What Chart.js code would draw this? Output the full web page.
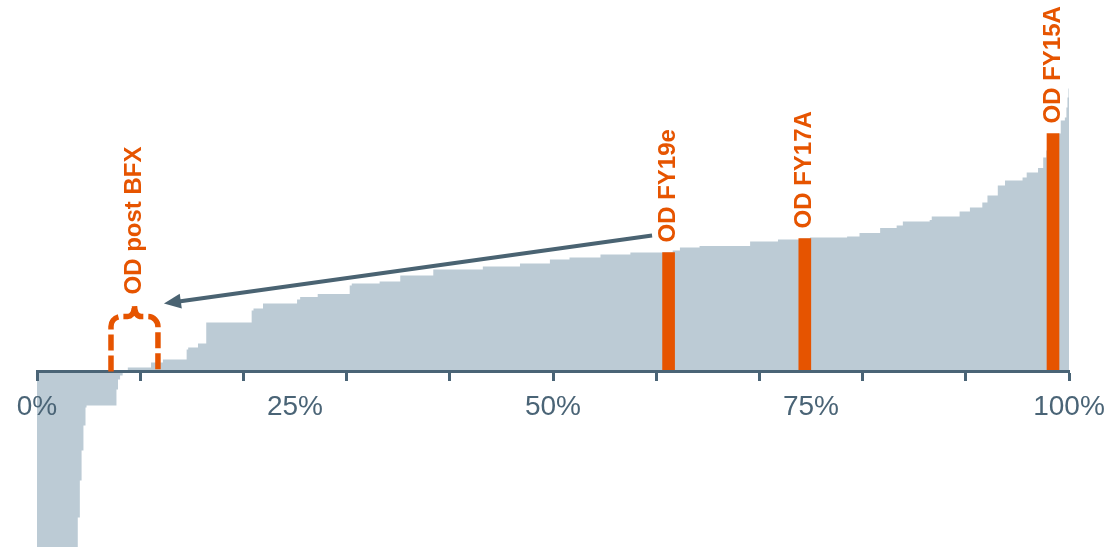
<!DOCTYPE html>
<html>
<head>
<meta charset="utf-8">
<script src="https://cdn.jsdelivr.net/npm/chart.js@4.4.0/dist/chart.umd.min.js"></script>
<style>
  html, body { margin: 0; padding: 0; background: #ffffff; }
  #wrap { width: 1109px; height: 547px; }
</style>
</head>
<body>
<div id="wrap"><canvas id="chart" width="1109" height="547"></canvas></div>
<script>
// Cumulative share of the peer group (%) where each margin level begins
const peerShare = [
  0, 0.8, 1.6, 2.4, 3.2, 3.75, 3.95, 4.15, 4.32, 4.5, 4.7, 4.8,
  7.7, 7.85, 8.05, 8.3, 8.8, 11.05, 12.2, 14.5, 14.65, 15.6, 16.4,
  20.8, 20.98, 21.9, 25.2, 25.5, 27.2, 30.3, 30.5, 33.2, 35.2, 38.4,
  43.2, 46.8, 49.7, 51.6, 54.6, 57.5, 61.6, 62.3, 64.2, 69.1, 71.8,
  73.9, 74.9, 78.5, 79.7, 81.7, 83.3, 83.9, 86.5, 86.7, 89.4, 90.4,
  91.6, 92.1, 93.1, 93.8, 95.5, 95.9, 97.0, 97.5, 97.8, 99.0, 99.2,
  99.6, 99.75, 99.85, 99.95, 100
];
// Margin level of each step
const peerMargin = [
  -75, -42, -31, -25, -20.5, -17.8, -14.6, -10.9, -7.9, -5.4, -3.6, -3.4,
  -1.8, -0.8, -0.4, 0.1, 0.4, 0.9, 1.2, 2.2, 2.4, 2.8, 4.9,
  6.1, 6.3, 6.8, 7.2, 7.45, 7.75, 8.6, 8.8, 9.0, 9.6, 10.2,
  10.5, 10.8, 11.2, 11.4, 11.7, 11.9, 12.1, 12.4, 12.55, 13.0, 13.2,
  13.3, 13.4, 13.5, 13.85, 14.35, 14.6, 15.0, 15.15, 15.5, 16.0, 16.4,
  16.9, 17.6, 18.6, 19.1, 19.4, 19.9, 20.35, 21.4, 22.1, 23.8, 25.1,
  25.4, 26.4, 27.4, 28.3, 28.3
];

// Highlighted OD positions
const markerLabels = ['OD FY19e', 'OD FY17A', 'OD FY15A'];
const markerShare = [61.2, 74.4, 98.45];
const markerMargin = [11.9, 13.3, 23.8];

// Axis ticks: marks every 10 %, labels every 25 %
const tickMarkValues = [0, 10, 20, 30, 40, 50, 60, 70, 80, 90, 100];
const tickLabelValues = [0, 25, 50, 75, 100];
const tickLabels = ['0%', '25%', '50%', '75%', '100%'];

// Post-BFX range bracket and the arrow pointing to it
const bfxLabel = 'OD post BFX';
const bfxRange = [7.17, 11.72];
const bfxTop = 5.5;
const bfxTip = 6.7;
const arrowFrom = [59.6, 13.6];
const arrowTo = [12.3, 6.8];

const AREA = '#bccbd5';
const ORANGE = '#e65400';
const AXIS = '#4a6476';
const ARROW = '#4a6372';
const FONT = '"Liberation Sans", Arial, sans-serif';

const annotations = {
  id: 'annotations',
  afterDraw(chart) {
    const { ctx } = chart;
    const x = chart.scales.x;
    const y = chart.scales.y;
    ctx.save();

    // Rotated labels above each highlighted bar
    ctx.font = 'bold 24px ' + FONT;
    ctx.fillStyle = ORANGE;
    ctx.textAlign = 'left';
    ctx.textBaseline = 'middle';
    chart.getDatasetMeta(1).data.forEach((bar, i) => {
      ctx.save();
      ctx.translate(bar.x, bar.y - 10);
      ctx.rotate(-Math.PI / 2);
      ctx.fillText(markerLabels[i], 0, 0);
      ctx.restore();
    });

    // Dashed brace over the post-BFX range
    const xl = x.getPixelForValue(bfxRange[0]);
    const xr = x.getPixelForValue(bfxRange[1]);
    const xm = (xl + xr) / 2;
    const yb = y.getPixelForValue(0);
    const yt = y.getPixelForValue(bfxTop);
    const ytip = y.getPixelForValue(bfxTip);
    const r = 10;
    ctx.beginPath();
    ctx.setLineDash([16, 5]);
    ctx.lineWidth = 5.5;
    ctx.strokeStyle = ORANGE;
    ctx.moveTo(xl, yb);
    ctx.lineTo(xl, yt + r);
    ctx.arcTo(xl, yt, xl + r, yt, r);
    ctx.lineTo(xm - 7, yt);
    ctx.quadraticCurveTo(xm, yt, xm, ytip);
    ctx.quadraticCurveTo(xm, yt, xm + 7, yt);
    ctx.lineTo(xr - r, yt);
    ctx.arcTo(xr, yt, xr, yt + r, r);
    ctx.lineTo(xr, yb);
    ctx.stroke();
    ctx.setLineDash([]);

    ctx.save();
    ctx.translate(xm, ytip - 10);
    ctx.rotate(-Math.PI / 2);
    ctx.fillText(bfxLabel, 0, 0);
    ctx.restore();

    // Arrow
    const sx = x.getPixelForValue(arrowFrom[0]);
    const sy = y.getPixelForValue(arrowFrom[1]);
    const ex = x.getPixelForValue(arrowTo[0]);
    const ey = y.getPixelForValue(arrowTo[1]);
    const ang = Math.atan2(ey - sy, ex - sx);
    const headLen = 17, headHalf = 7.5;
    const bx = ex - headLen * Math.cos(ang);
    const by = ey - headLen * Math.sin(ang);
    ctx.strokeStyle = ARROW;
    ctx.fillStyle = ARROW;
    ctx.lineWidth = 4;
    ctx.beginPath();
    ctx.moveTo(sx, sy);
    ctx.lineTo(bx + 2 * Math.cos(ang), by + 2 * Math.sin(ang));
    ctx.stroke();
    ctx.beginPath();
    ctx.moveTo(ex, ey);
    ctx.lineTo(bx + headHalf * Math.sin(ang), by - headHalf * Math.cos(ang));
    ctx.lineTo(bx - headHalf * Math.sin(ang), by + headHalf * Math.cos(ang));
    ctx.closePath();
    ctx.fill();

    ctx.restore();
  }
};

new Chart(document.getElementById('chart'), {
  type: 'line',
  data: {
    datasets: [
      {
        type: 'line',
        data: peerShare.map((s, i) => ({ x: s, y: peerMargin[i] })),
        stepped: true,
        fill: 'origin',
        backgroundColor: AREA,
        borderWidth: 0,
        borderColor: 'rgba(0,0,0,0)',
        pointRadius: 0,
        pointHoverRadius: 0,
        order: 2
      },
      {
        type: 'bar',
        data: markerShare.map((s, i) => ({ x: s, y: markerMargin[i] })),
        backgroundColor: ORANGE,
        barThickness: 12,
        order: 1
      }
    ]
  },
  options: {
    responsive: false,
    animation: false,
    devicePixelRatio: 1,
    events: [],
    layout: { padding: { left: 37, right: 40, top: 0, bottom: 0 }, autoPadding: false },
    plugins: { legend: { display: false }, tooltip: { enabled: false } },
    scales: {
      x: {
        type: 'linear',
        min: 0,
        max: 100,
        offset: false,
        position: { y: 0 },
        afterFit: (scale) => {
          // the axis sits inside the plot, so it takes no layout room
          scale.height = 0;
          scale.paddingLeft = 0;
          scale.paddingRight = 0;
          scale.paddingTop = 0;
          scale.paddingBottom = 0;
        },
        ticks: {
          stepSize: 5,
          autoSkip: false,
          maxRotation: 0,
          padding: 11,
          color: AXIS,
          font: { family: FONT, size: 28 },
          z: 1,
          callback: (v) => {
            const k = tickLabelValues.indexOf(Math.round(v));
            return k >= 0 ? tickLabels[k] : '';
          }
        },
        grid: {
          offset: false,
          drawOnChartArea: false,
          tickLength: 8,
          tickWidth: 3,
          z: 1,
          tickColor: (c) => (c.tick && tickMarkValues.includes(Math.round(c.tick.value))) ? AXIS : 'rgba(0,0,0,0)'
        },
        border: { display: true, color: AXIS, width: 3, z: 1 }
      },
      y: { display: false, min: -17.55, max: 37.15 }
    }
  },
  plugins: [annotations]
});
</script>
</body>
</html>
